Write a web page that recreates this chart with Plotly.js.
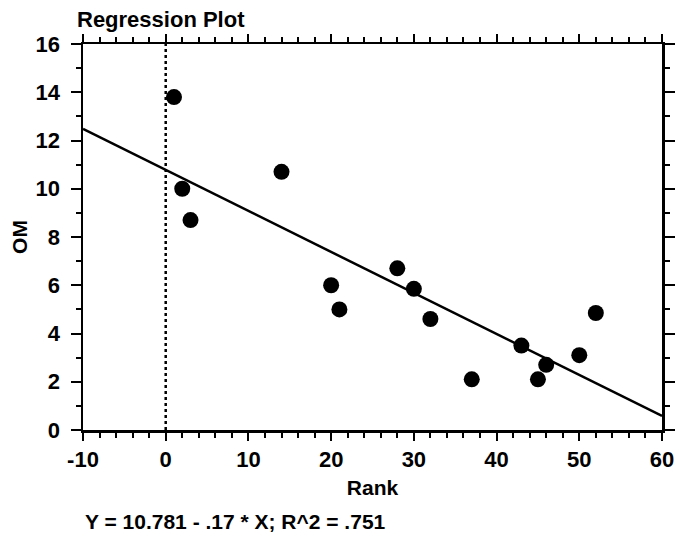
<!DOCTYPE html>
<html>
<head>
<meta charset="utf-8">
<script src="https://cdn.plot.ly/plotly-3.0.1.min.js"></script>
<style>
  html, body { margin: 0; padding: 0; background: #fff; }
  #chart { width: 679px; height: 538px; }
</style>
</head>
<body>
<div id="chart"></div>
<script>
// Observed data (Rank vs OM)
const rank = [1, 2, 3, 14, 20, 21, 28, 30, 32, 37, 43, 45, 46, 50, 52];
const om   = [13.8, 10.0, 8.7, 10.7, 6.0, 5.0, 6.7, 5.85, 4.6, 2.1, 3.5, 2.1, 2.7, 3.1, 4.85];

// Regression fit reported on the chart
const intercept = 10.781;
const slope = -0.17;
const r2 = 0.751;
const fitX = [-10, 60];
const fitY = fitX.map(x => intercept + slope * x);

// Axis ranges / ticks
const xRange = [-10, 60];
const yRange = [0, 16];
const xTickVals = [-10, 0, 10, 20, 30, 40, 50, 60];
const xTickText = ['-10', '0', '10', '20', '30', '40', '50', '60'];
const yTickVals = [0, 2, 4, 6, 8, 10, 12, 14, 16];
const yTickText = ['0', '2', '4', '6', '8', '10', '12', '14', '16'];
const refX = 0;

const FONT = "'Liberation Sans', Arial, sans-serif";
const bold = s => '<b>' + s + '</b>';

const traces = [
  {
    x: fitX, y: fitY, type: 'scatter', mode: 'lines',
    line: { color: '#000', width: 2.5 }, hoverinfo: 'skip', showlegend: false
  },
  {
    x: rank, y: om, type: 'scatter', mode: 'markers',
    marker: { color: '#000', size: 16 }, showlegend: false
  }
];

const axisCommon = {
  showgrid: false, zeroline: false, showline: true, linecolor: '#000', linewidth: 2.5,
  mirror: 'allticks', ticks: 'outside', tickcolor: '#000', tickwidth: 2,
  tickmode: 'array',
  tickfont: { family: FONT, size: 22, color: '#000' }
};

const layout = {
  width: 679, height: 538,
  paper_bgcolor: '#fff', plot_bgcolor: '#fff',
  margin: { l: 83, r: 17, t: 44, b: 108 },
  font: { family: FONT, color: '#000' },
  title: {
    text: bold('Regression Plot'),
    font: { family: FONT, size: 22, color: '#000' },
    xref: 'container', yref: 'container',
    x: 77 / 679, xanchor: 'left', y: 1 - 19 / 538, yanchor: 'middle'
  },
  xaxis: Object.assign({}, axisCommon, {
    range: xRange, tickvals: xTickVals, ticktext: xTickText.map(bold), ticklen: 8,
    minor: { dtick: 2, tick0: 0, ticklen: 5, tickcolor: '#000', tickwidth: 2, ticks: 'outside', showgrid: false },
    title: { text: bold('Rank'), font: { family: FONT, size: 21, color: '#000' }, standoff: 10 }
  }),
  yaxis: Object.assign({}, axisCommon, {
    range: yRange, tickvals: yTickVals, ticktext: yTickText.map(bold), ticklen: 10,
    minor: { dtick: 1, tick0: 0, ticklen: 5, tickcolor: '#000', tickwidth: 2, ticks: 'outside', showgrid: false },
    ticklabelstandoff: 6,
    title: { text: bold('OM'), font: { family: FONT, size: 21, color: '#000' }, standoff: 3 }
  }),
  shapes: [
    {
      type: 'line', xref: 'x', yref: 'paper', x0: refX, x1: refX, y0: 0, y1: 1,
      line: { color: '#000', width: 2.5, dash: 'dot' }, layer: 'below'
    }
  ],
  annotations: [
    {
      text: bold('Y = ' + intercept + ' - ' + String(Math.abs(slope)).replace(/^0/, '') +
            ' * X; R^2 = ' + String(r2).replace(/^0/, '')),
      xref: 'paper', yref: 'paper', x: 0, y: (430 - 521) / 386,
      xanchor: 'left', yanchor: 'middle', showarrow: false,
      font: { family: FONT, size: 21, color: '#000' }
    }
  ]
};

Plotly.newPlot('chart', traces, layout, { displayModeBar: false, staticPlot: true });
</script>
</body>
</html>
